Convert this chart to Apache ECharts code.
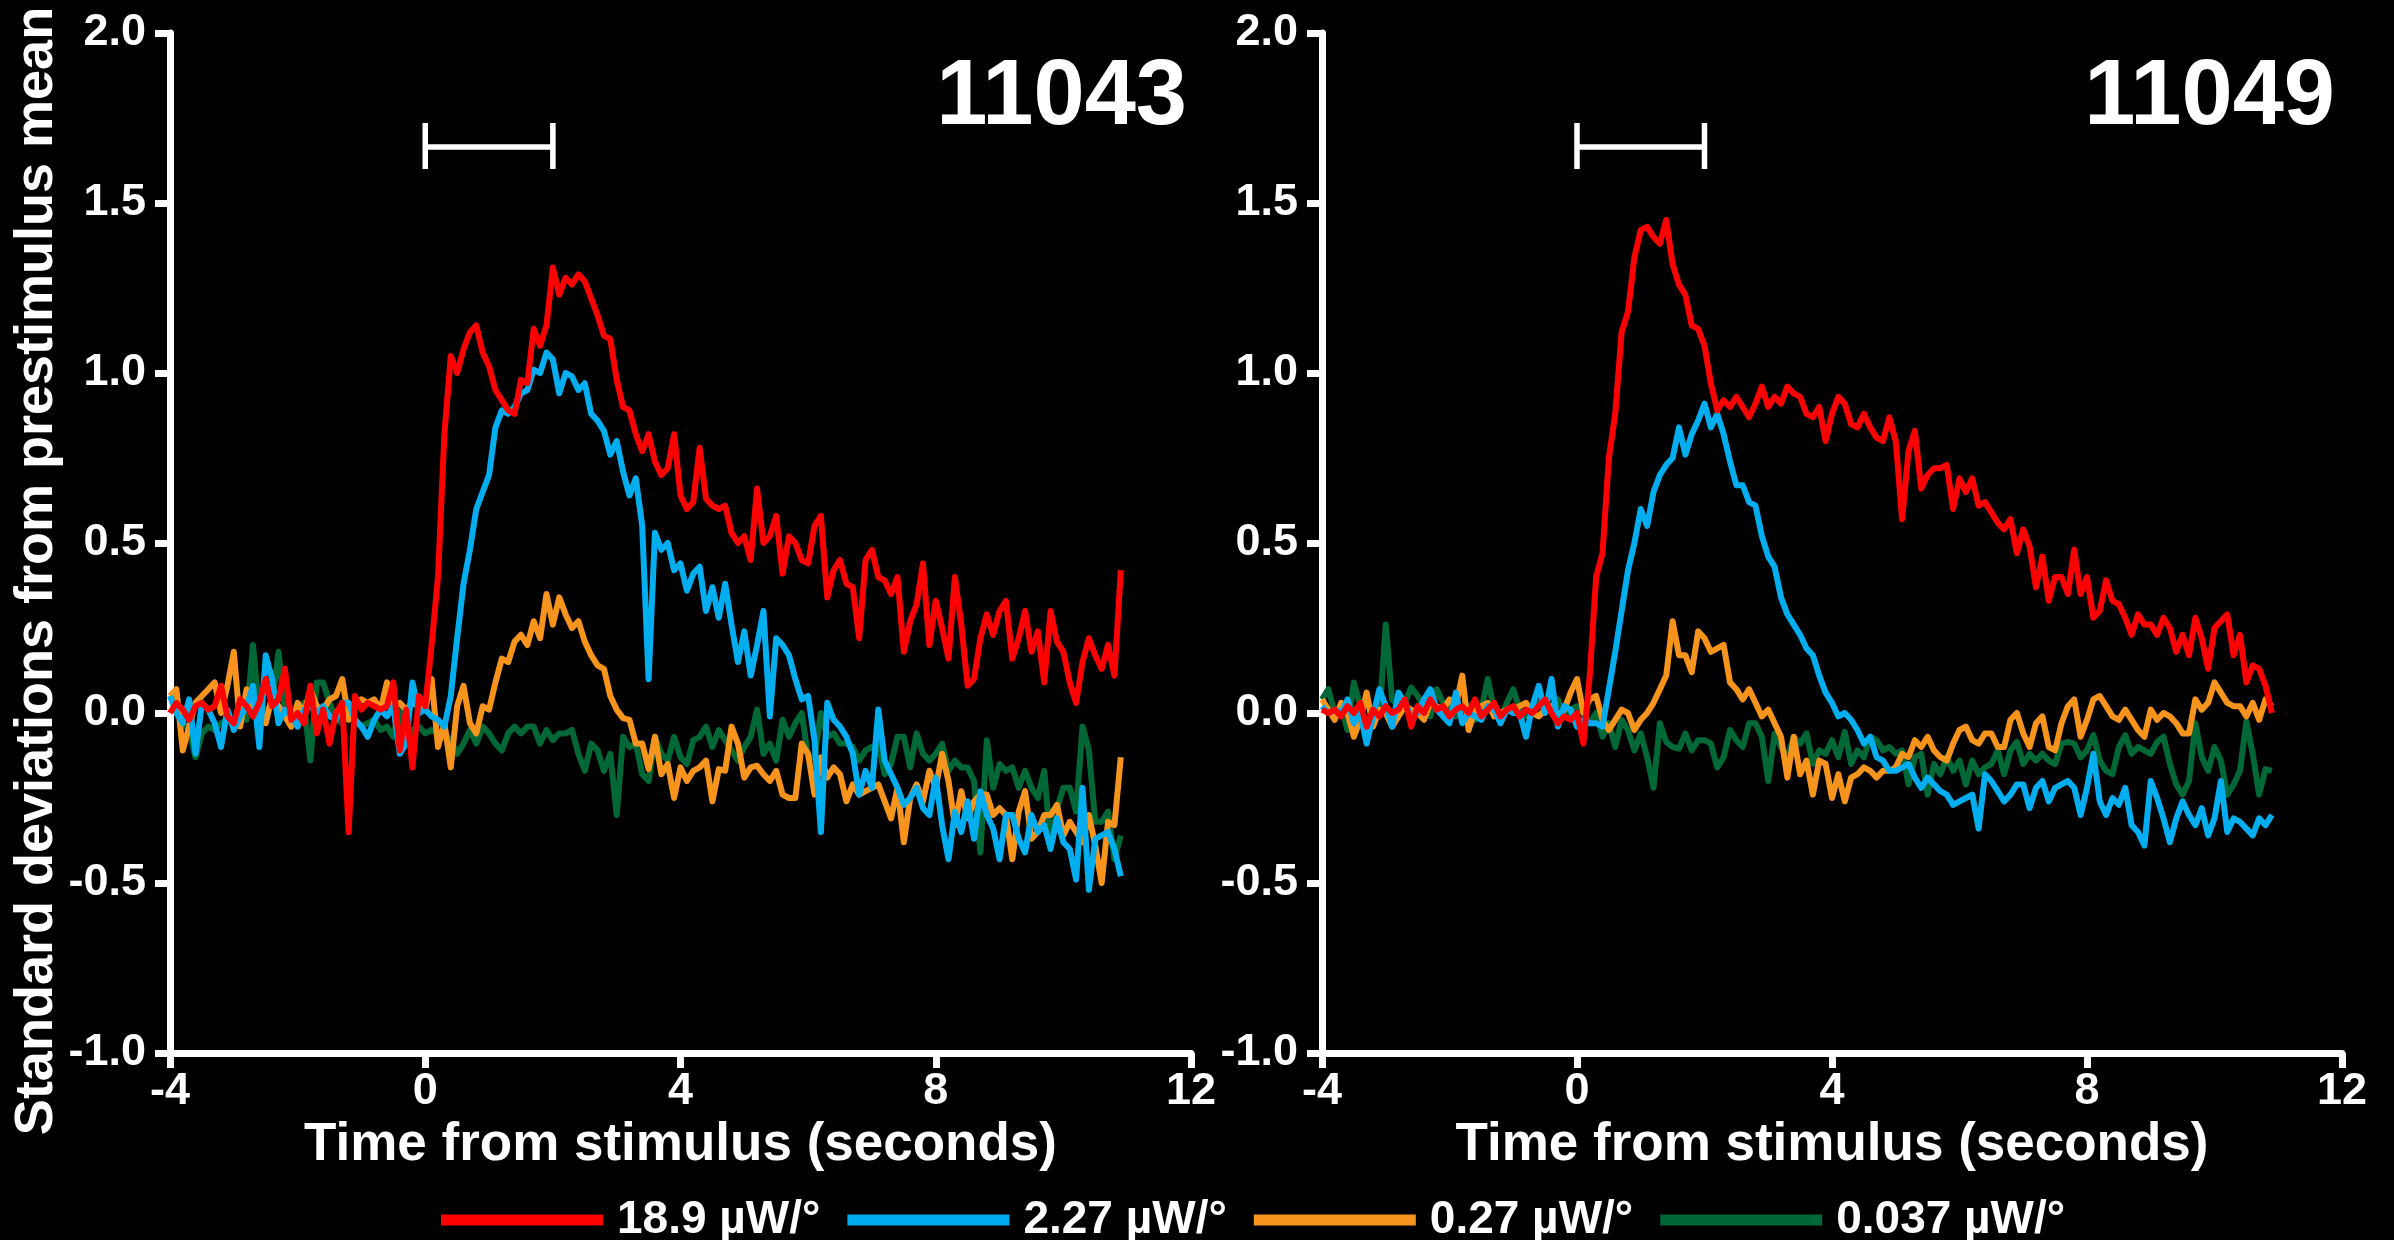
<!DOCTYPE html>
<html>
<head>
<meta charset="utf-8">
<script src="https://cdn.jsdelivr.net/npm/echarts@6/dist/echarts.min.js"></script>
<style>
html,body{margin:0;padding:0;background:#000;}
#chart{width:2394px;height:1240px;}
</style>
</head>
<body>
<div id="chart"></div>
<script>
// ---------- data ----------
const timeSec = [
-4.0,-3.9,-3.8,-3.7,-3.6,-3.5,-3.4,-3.3,-3.2,-3.1,
-3.0,-2.9,-2.8,-2.7,-2.6,-2.5,-2.4,-2.3,-2.2,-2.1,
-2.0,-1.9,-1.8,-1.7,-1.6,-1.5,-1.4,-1.3,-1.2,-1.1,
-1.0,-0.9,-0.8,-0.7,-0.6,-0.5,-0.4,-0.3,-0.2,-0.1,
0.0,0.1,0.2,0.3,0.4,0.5,0.6,0.7,0.8,0.9,
1.0,1.1,1.2,1.3,1.4,1.5,1.6,1.7,1.8,1.9,
2.0,2.1,2.2,2.3,2.4,2.5,2.6,2.7,2.8,2.9,
3.0,3.1,3.2,3.3,3.4,3.5,3.6,3.7,3.8,3.9,
4.0,4.1,4.2,4.3,4.4,4.5,4.6,4.7,4.8,4.9,
5.0,5.1,5.2,5.3,5.4,5.5,5.6,5.7,5.8,5.9,
6.0,6.1,6.2,6.3,6.4,6.5,6.6,6.7,6.8,6.9,
7.0,7.1,7.2,7.3,7.4,7.5,7.6,7.7,7.8,7.9,
8.0,8.1,8.2,8.3,8.4,8.5,8.6,8.7,8.8,8.9,
9.0,9.1,9.2,9.3,9.4,9.5,9.6,9.7,9.8,9.9,
10.0,10.1,10.2,10.3,10.4,10.5,10.6,10.7,10.8,10.9];

const seriesNames = ['18.9 µW/°', '2.27 µW/°', '0.27 µW/°', '0.037 µW/°'];
const seriesColors = ['#FF0000', '#00AEEF', '#F7941D', '#006837'];
const panelTitles = ['11043', '11049'];
const xTicks = [-4, 0, 4, 8, 12];
const yTicks = [-1.0, -0.5, 0.0, 0.5, 1.0, 1.5, 2.0];
const stimulusX = [0, 2];
const stimulusLevel = 1.665;
const stimulusCap = [1.60, 1.735];

// Cell 11043
const red11043 = [
0.00,0.03,0.01,-0.02,0.02,0.03,0.01,0.02,0.08,-0.01,
-0.03,0.04,0.02,-0.01,0.03,0.10,0.02,0.04,0.13,-0.02,
0.00,-0.03,0.08,-0.06,0.01,-0.09,0.00,0.03,-0.35,0.05,
0.01,0.03,0.02,0.01,0.02,0.09,-0.11,0.01,-0.16,0.05,
0.02,0.20,0.40,0.82,1.05,1.00,1.07,1.12,1.14,1.06,
1.02,0.95,0.92,0.89,0.88,0.98,0.97,1.13,1.08,1.14,
1.31,1.23,1.28,1.26,1.29,1.27,1.22,1.17,1.11,1.10,
0.98,0.90,0.89,0.82,0.77,0.82,0.74,0.70,0.72,0.82,
0.64,0.60,0.62,0.78,0.63,0.61,0.60,0.61,0.53,0.50,
0.52,0.45,0.66,0.50,0.52,0.58,0.41,0.52,0.50,0.45,
0.44,0.55,0.58,0.34,0.42,0.45,0.38,0.37,0.22,0.45,
0.48,0.40,0.39,0.35,0.40,0.18,0.27,0.32,0.44,0.20,
0.33,0.25,0.16,0.40,0.26,0.08,0.10,0.22,0.29,0.23,
0.30,0.33,0.16,0.22,0.30,0.18,0.24,0.09,0.30,0.21,
0.18,0.09,0.03,0.15,0.22,0.17,0.13,0.20,0.11,0.42];
const blue11043 = [
0.05,0.00,-0.03,0.04,-0.12,0.03,0.01,-0.03,-0.10,0.01,
-0.05,-0.01,0.02,0.08,-0.10,0.17,0.10,-0.03,0.01,-0.01,
-0.04,0.01,0.02,0.00,0.02,-0.01,-0.02,0.03,0.03,-0.02,
-0.04,-0.07,-0.02,0.01,-0.01,0.02,-0.12,-0.09,0.09,0.00,
0.01,-0.01,-0.02,-0.04,0.05,0.22,0.38,0.48,0.60,0.65,
0.70,0.84,0.89,0.88,0.90,0.94,0.95,1.01,1.00,1.06,
1.04,0.94,1.00,0.99,0.95,0.97,0.88,0.86,0.83,0.76,
0.80,0.71,0.64,0.69,0.55,0.10,0.53,0.48,0.50,0.42,
0.44,0.36,0.41,0.43,0.30,0.37,0.28,0.38,0.26,0.15,
0.24,0.11,0.20,0.30,-0.01,0.22,0.20,0.17,0.10,0.04,
0.05,-0.08,-0.35,0.03,-0.02,-0.04,-0.07,-0.12,-0.24,-0.17,
-0.22,0.01,-0.14,-0.18,-0.22,-0.27,-0.25,-0.22,-0.28,-0.30,
-0.19,-0.33,-0.43,-0.29,-0.35,-0.26,-0.37,-0.23,-0.30,-0.34,
-0.43,-0.30,-0.30,-0.37,-0.41,-0.30,-0.35,-0.33,-0.40,-0.31,
-0.38,-0.40,-0.49,-0.22,-0.52,-0.37,-0.36,-0.35,-0.40,-0.48];
const orange11043 = [
0.05,0.07,-0.11,-0.04,0.03,0.05,0.07,0.09,0.00,0.08,
0.18,-0.04,0.07,0.02,0.01,-0.03,0.05,0.02,-0.01,-0.04,
0.03,0.00,0.07,0.02,0.01,0.04,0.05,0.10,-0.02,0.02,
0.04,0.03,0.04,0.01,0.09,0.02,0.03,0.01,0.03,0.02,
0.01,0.10,-0.10,-0.03,-0.16,0.02,0.08,-0.03,-0.06,0.02,
0.01,0.09,0.16,0.15,0.21,0.23,0.20,0.27,0.22,0.35,
0.26,0.34,0.29,0.25,0.27,0.21,0.17,0.14,0.13,0.05,
0.01,-0.015,-0.02,-0.09,-0.09,-0.165,-0.07,-0.18,-0.15,-0.25,
-0.16,-0.20,-0.17,-0.16,-0.14,-0.26,-0.165,-0.17,-0.04,-0.09,
-0.19,-0.16,-0.155,-0.18,-0.20,-0.17,-0.24,-0.25,-0.25,-0.09,
-0.12,-0.24,-0.13,-0.19,-0.16,-0.18,-0.26,-0.21,-0.24,-0.23,
-0.22,-0.21,-0.26,-0.31,-0.22,-0.38,-0.25,-0.21,-0.26,-0.17,
-0.22,-0.12,-0.20,-0.33,-0.23,-0.31,-0.26,-0.24,-0.24,-0.30,
-0.28,-0.30,-0.43,-0.29,-0.23,-0.37,-0.35,-0.30,-0.30,-0.27,
-0.36,-0.32,-0.35,-0.38,-0.30,-0.39,-0.50,-0.32,-0.33,-0.13];
const green11043 = [
0.04,0.05,-0.03,-0.05,-0.13,-0.06,-0.04,-0.05,-0.03,-0.02,
-0.03,-0.01,-0.02,0.20,0.00,0.01,0.02,0.18,0.01,-0.03,
-0.02,0.03,-0.14,0.09,0.09,0.03,-0.02,-0.03,0.00,-0.02,
-0.04,-0.03,-0.02,-0.05,-0.04,-0.07,0.02,-0.08,-0.05,-0.04,
-0.06,-0.05,-0.06,-0.06,-0.08,-0.12,-0.09,-0.05,-0.09,-0.04,
-0.06,-0.09,-0.11,-0.06,-0.04,-0.06,-0.04,-0.04,-0.09,-0.05,
-0.08,-0.06,-0.06,-0.05,-0.12,-0.17,-0.09,-0.11,-0.17,-0.12,
-0.30,-0.07,-0.10,-0.09,-0.18,-0.20,-0.07,-0.12,-0.14,-0.07,
-0.13,-0.15,-0.08,-0.07,-0.04,-0.10,-0.05,-0.08,-0.11,-0.14,
-0.10,-0.07,0.01,-0.12,-0.09,-0.14,-0.02,-0.07,-0.03,0.00,
-0.13,-0.13,0.00,-0.07,-0.06,-0.09,-0.09,-0.10,-0.14,-0.11,
-0.10,-0.09,-0.18,-0.15,-0.07,-0.07,-0.16,-0.06,-0.12,-0.14,
-0.12,-0.09,-0.17,-0.14,-0.16,-0.16,-0.20,-0.41,-0.08,-0.22,
-0.15,-0.17,-0.16,-0.22,-0.17,-0.22,-0.25,-0.17,-0.39,-0.28,
-0.22,-0.22,-0.29,-0.04,-0.11,-0.32,-0.32,-0.29,-0.43,-0.36];

// Cell 11049
const red11049 = [
0.01,0.00,0.01,-0.01,0.02,0.00,0.03,-0.04,0.01,-0.01,
0.02,0.00,0.01,0.04,-0.04,0.02,0.00,0.04,0.01,0.02,
-0.01,0.01,0.02,0.00,0.04,-0.01,0.01,0.03,-0.01,0.01,
0.02,-0.01,0.01,0.00,0.02,0.04,0.00,-0.03,-0.01,-0.02,
0.00,-0.09,0.11,0.40,0.47,0.75,0.88,1.12,1.18,1.34,
1.42,1.43,1.40,1.38,1.45,1.32,1.26,1.23,1.14,1.13,
1.08,0.97,0.89,0.92,0.90,0.93,0.90,0.87,0.91,0.96,
0.90,0.93,0.91,0.96,0.94,0.93,0.88,0.87,0.90,0.80,
0.88,0.93,0.91,0.85,0.84,0.88,0.84,0.81,0.80,0.87,
0.80,0.57,0.77,0.83,0.66,0.70,0.72,0.72,0.73,0.60,
0.69,0.65,0.69,0.61,0.62,0.59,0.56,0.54,0.57,0.47,
0.54,0.49,0.37,0.46,0.33,0.40,0.40,0.35,0.48,0.35,
0.40,0.28,0.30,0.39,0.33,0.32,0.28,0.23,0.29,0.26,
0.26,0.23,0.28,0.25,0.18,0.23,0.17,0.28,0.22,0.13,
0.25,0.27,0.29,0.17,0.23,0.09,0.14,0.13,0.08,0.00];
const blue11049 = [
0.02,0.00,0.01,0.00,0.04,-0.03,0.00,-0.09,-0.01,0.07,
0.02,-0.04,0.06,0.03,-0.01,0.00,0.04,0.07,0.01,-0.01,
-0.03,0.06,-0.03,0.00,-0.01,-0.02,0.02,0.01,-0.03,0.01,
0.00,0.00,-0.07,0.02,0.08,0.00,0.10,-0.04,0.02,0.01,
-0.04,-0.02,-0.03,-0.03,-0.04,0.07,0.18,0.30,0.42,0.50,
0.60,0.55,0.65,0.70,0.73,0.75,0.84,0.76,0.82,0.86,
0.91,0.84,0.88,0.82,0.74,0.67,0.67,0.62,0.61,0.52,
0.46,0.43,0.34,0.29,0.26,0.23,0.19,0.17,0.11,0.06,
0.03,-0.01,0.00,-0.02,-0.05,-0.09,-0.07,-0.13,-0.14,-0.17,
-0.17,-0.16,-0.15,-0.19,-0.22,-0.19,-0.21,-0.23,-0.24,-0.27,
-0.26,-0.25,-0.24,-0.34,-0.18,-0.20,-0.23,-0.26,-0.24,-0.21,
-0.21,-0.28,-0.22,-0.20,-0.26,-0.22,-0.21,-0.20,-0.22,-0.30,
-0.22,-0.12,-0.26,-0.30,-0.25,-0.27,-0.22,-0.33,-0.35,-0.39,
-0.20,-0.25,-0.31,-0.38,-0.31,-0.26,-0.30,-0.33,-0.28,-0.36,
-0.31,-0.20,-0.35,-0.31,-0.32,-0.34,-0.36,-0.31,-0.33,-0.30];
const orange11049 = [
0.04,0.01,-0.02,0.03,0.00,-0.07,-0.02,0.06,-0.04,0.01,
0.00,-0.04,-0.01,0.02,0.01,0.00,-0.02,0.03,0.02,0.01,
0.04,0.02,0.11,-0.05,0.01,0.02,0.03,-0.01,0.00,0.01,
0.01,0.02,0.03,0.00,-0.01,0.01,0.02,-0.01,0.01,0.06,
0.10,0.00,0.04,0.05,-0.02,-0.05,-0.02,0.01,0.00,-0.05,
-0.02,0.00,0.03,0.07,0.11,0.27,0.17,0.17,0.12,0.24,
0.22,0.18,0.19,0.20,0.09,0.07,0.04,0.07,0.03,-0.01,
0.01,-0.03,-0.07,-0.19,-0.07,-0.18,-0.14,-0.24,-0.14,-0.15,
-0.25,-0.18,-0.26,-0.19,-0.18,-0.16,-0.17,-0.19,-0.17,-0.17,
-0.16,-0.12,-0.13,-0.08,-0.10,-0.07,-0.11,-0.13,-0.14,-0.09,
-0.05,-0.04,-0.08,-0.09,-0.06,-0.06,-0.10,-0.10,-0.02,0.00,
-0.06,-0.10,-0.03,-0.01,-0.10,-0.11,-0.03,0.02,0.04,-0.07,
-0.02,0.04,0.05,0.02,-0.01,-0.02,0.01,-0.02,-0.05,-0.07,
0.01,-0.02,0.00,-0.01,-0.03,-0.06,-0.06,0.04,0.01,0.03,
0.09,0.06,0.03,0.02,0.02,-0.01,0.03,-0.02,0.04,0.02];
const green11049 = [
0.04,0.07,0.00,0.02,-0.05,0.09,0.02,0.03,0.00,-0.01,
0.26,0.04,0.02,0.03,0.075,0.05,0.02,-0.01,0.07,0.03,
0.02,-0.01,0.01,0.02,-0.02,0.01,0.10,0.01,-0.02,0.03,
0.07,0.01,-0.01,0.00,0.03,0.01,0.02,0.04,-0.01,0.01,
0.02,0.00,-0.03,0.00,-0.07,-0.03,-0.10,-0.02,-0.05,-0.11,
-0.06,-0.13,-0.22,-0.03,-0.085,-0.10,-0.105,-0.06,-0.11,-0.08,
-0.08,-0.09,-0.16,-0.13,-0.05,-0.08,-0.10,-0.03,-0.03,-0.07,
-0.20,-0.06,-0.10,-0.13,-0.07,-0.09,-0.06,-0.15,-0.11,-0.12,
-0.08,-0.13,-0.055,-0.15,-0.11,-0.13,-0.07,-0.08,-0.11,-0.10,
-0.12,-0.11,-0.21,-0.13,-0.12,-0.24,-0.15,-0.18,-0.13,-0.17,
-0.14,-0.21,-0.14,-0.18,-0.16,-0.15,-0.11,-0.18,-0.11,-0.085,
-0.15,-0.12,-0.14,-0.12,-0.14,-0.15,-0.09,-0.085,-0.09,-0.13,
-0.11,-0.065,-0.14,-0.17,-0.18,-0.10,-0.065,-0.12,-0.10,-0.11,
-0.12,-0.085,-0.07,-0.15,-0.21,-0.24,-0.20,-0.03,-0.13,-0.17,
-0.10,-0.14,-0.24,-0.21,-0.17,-0.025,-0.12,-0.24,-0.165,-0.17];

const panels = [
  [red11043, blue11043, orange11043, green11043],
  [red11049, blue11049, orange11049, green11049]
];

// ---------- chart ----------
const FONT = "'Liberation Sans', Arial, Helvetica, sans-serif";
const chart = echarts.init(document.getElementById('chart'), null, {renderer: 'canvas'});

function pairs(vals) { return timeSec.map((t, i) => [t, vals[i]]); }

const grids = [
  {left: 170, top: 33, width: 1021, height: 1020},
  {left: 1322, top: 33, width: 1020, height: 1020}
];

const axisCommon = {
  axisLine: {show: true, onZero: false, lineStyle: {color: '#fff', width: 7}},
  axisTick: {show: true, length: 15, lineStyle: {color: '#fff', width: 7}},
  splitLine: {show: false}
};

const xAxes = grids.map((g, k) => Object.assign({}, axisCommon, {
  type: 'value', gridIndex: k, min: xTicks[0], max: xTicks[xTicks.length - 1], interval: 4,
  name: 'Time from stimulus (seconds)', nameLocation: 'middle', nameGap: 39,
  nameTextStyle: {color: '#fff', fontSize: 53, fontWeight: 'bold', fontFamily: FONT},
  axisLabel: {color: '#fff', fontSize: 45, fontWeight: 'bold', fontFamily: FONT, margin: 16}
}));
const yAxes = grids.map((g, k) => Object.assign({}, axisCommon, {
  type: 'value', gridIndex: k, min: yTicks[0], max: yTicks[yTicks.length - 1], interval: 0.5,
  name: k === 0 ? 'Standard deviations from prestimulus mean' : '',
  nameLocation: 'middle', nameGap: 94, nameRotate: 90,
  nameTextStyle: {color: '#fff', fontSize: 54, fontWeight: 'bold', fontFamily: FONT, padding: [0, 56, 0, 0]},
  axisLabel: {color: '#fff', fontSize: 45, fontWeight: 'bold', fontFamily: FONT, margin: 24,
    formatter: v => v.toFixed(1)}
}));

const series = [];
const drawOrder = [3, 2, 1, 0]; // green under, red on top
panels.forEach((vals, k) => {
  drawOrder.forEach(j => {
    series.push({
      name: seriesNames[j], type: 'line', xAxisIndex: k, yAxisIndex: k,
      data: pairs(vals[j]), showSymbol: false, symbol: 'none',
      lineStyle: {color: seriesColors[j], width: 6, join: 'round'},
      itemStyle: {color: seriesColors[j]}, z: 2 + (3 - j)
    });
  });
  // stimulus bar (I-beam) from 0 to 2 s
  series.push({
    name: 'stimulus', type: 'line', xAxisIndex: k, yAxisIndex: k, showSymbol: false, symbol: 'none',
    lineStyle: {color: '#fff', width: 5.5}, z: 10, silent: true,
    data: [[stimulusX[0], stimulusCap[1]], [stimulusX[0], stimulusCap[0]], [stimulusX[0], stimulusLevel],
           [stimulusX[1], stimulusLevel], [stimulusX[1], stimulusCap[1]], [stimulusX[1], stimulusCap[0]]]
  });
});

const option = {
  backgroundColor: '#000',
  animation: false,
  title: [
    {text: panelTitles[0], right: 2394 - 1192, top: 48,
     textStyle: {color: '#fff', fontSize: 92, fontWeight: 'bold', fontFamily: FONT}},
    {text: panelTitles[1], right: 2394 - 2340, top: 48,
     textStyle: {color: '#fff', fontSize: 92, fontWeight: 'bold', fontFamily: FONT}}
  ],
  legend: {
    data: seriesNames, left: 436, top: 1192, icon: 'rect', itemWidth: 162, itemHeight: 11, itemGap: 27,
    textStyle: {color: '#fff', fontSize: 46, fontWeight: 'bold', fontFamily: FONT, padding: [0, 0, 0, 9]}
  },
  grid: grids,
  xAxis: xAxes,
  yAxis: yAxes,
  series: series
};
chart.setOption(option);
</script>
</body>
</html>
